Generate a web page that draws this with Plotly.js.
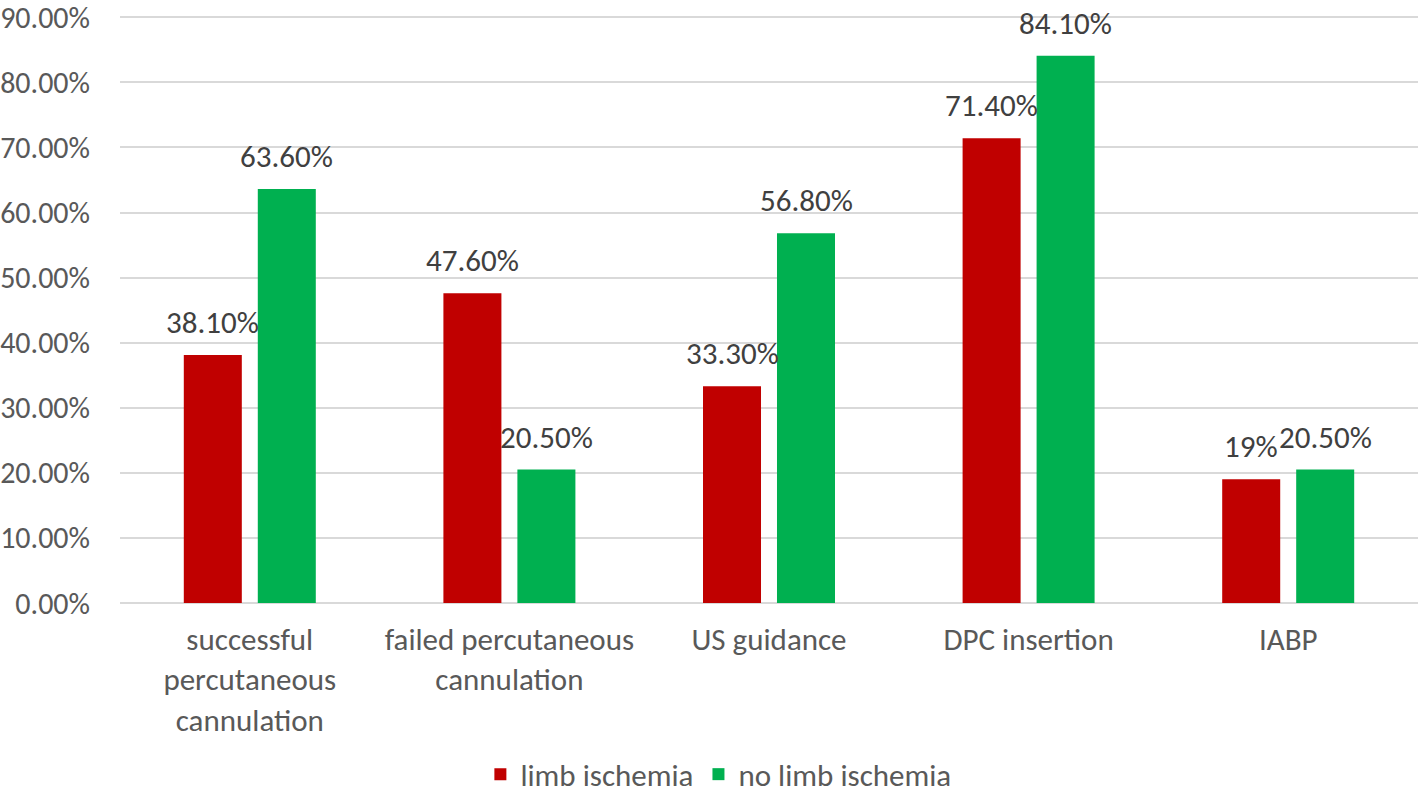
<!DOCTYPE html>
<html>
<head>
<meta charset="utf-8">
<script src="https://cdn.plot.ly/plotly-3.0.1.min.js"></script>
<style>html,body{margin:0;padding:0;background:#fff;}#chart{width:1418px;height:796px;}</style>
</head>
<body>
<div id="chart"></div>
<script>
const categories = ["successful<br>percutaneous<br>cannulation", "failed percutaneous<br>cannulation", "US guidance", "DPC insertion", "IABP"];
const limbIschemia = [38.1, 47.6, 33.3, 71.4, 19];
const noLimbIschemia = [63.6, 20.5, 56.8, 84.1, 20.5];
const limbLabels = ["38.10%", "47.60%", "33.30%", "71.40%", "19%"];
const noLimbLabels = ["63.60%", "20.50%", "56.80%", "84.10%", "20.50%"];
const seriesNames = ["limb ischemia", "no limb ischemia"];
const yTickVals = [0, 10, 20, 30, 40, 50, 60, 70, 80, 90];

const FONT = "Calibri, Carlito, 'Open Sans', sans-serif";
const FS = 31;

const traces = [
  {type: 'bar', name: seriesNames[0], x: categories, y: limbIschemia, marker: {color: '#C00000'}, hoverinfo: 'skip'},
  {type: 'bar', name: seriesNames[1], x: categories, y: noLimbIschemia, marker: {color: '#00B050'}, hoverinfo: 'skip'}
];

const annotations = [];
categories.forEach((c, i) => {
  annotations.push({x: c, y: limbIschemia[i], text: limbLabels[i], xref: 'x', yref: 'y', showarrow: false,
    xshift: -37, yshift: 12, yanchor: 'bottom', font: {family: FONT, size: FS, color: '#404040'}});
  annotations.push({x: c, y: noLimbIschemia[i], text: noLimbLabels[i], xref: 'x', yref: 'y', showarrow: false,
    xshift: 37, yshift: 12, yanchor: 'bottom', font: {family: FONT, size: FS, color: '#404040'}});
});

const layout = {
  width: 1418, height: 796,
  margin: {l: 120, r: 0, t: 16, b: 193, autoexpand: false},
  paper_bgcolor: '#ffffff', plot_bgcolor: '#ffffff',
  font: {family: FONT, size: FS, color: '#595959'},
  barmode: 'group', bargap: 0.43, bargroupgap: 0.216,
  showlegend: true,
  legend: {orientation: 'h', x: 0.461, xanchor: 'center', yref: 'container', y: 0.027, yanchor: 'middle',
    font: {family: FONT, size: 31, color: '#595959'}, tracegroupgap: 0},
  xaxis: {type: 'category', showgrid: false, showline: false, zeroline: false, ticks: '', automargin: false,
    tickfont: {family: FONT, size: FS, color: '#595959'}, ticklabelstandoff: 15, fixedrange: true},
  yaxis: {range: [0, 90.2], tickvals: yTickVals, ticktext: yTickVals.map(v => v.toFixed(2) + '%'),
    showgrid: true, gridcolor: '#D9D9D9', gridwidth: 2, zeroline: true, zerolinecolor: '#D9D9D9', zerolinewidth: 2,
    showline: false, ticks: '', ticklabelstandoff: 29, automargin: false, ticklabeloverflow: 'allow',
    tickfont: {family: FONT, size: 30, color: '#595959'}, fixedrange: true},
  annotations: annotations
};

Plotly.newPlot('chart', traces, layout, {displayModeBar: false, staticPlot: true});
</script>
</body>
</html>
